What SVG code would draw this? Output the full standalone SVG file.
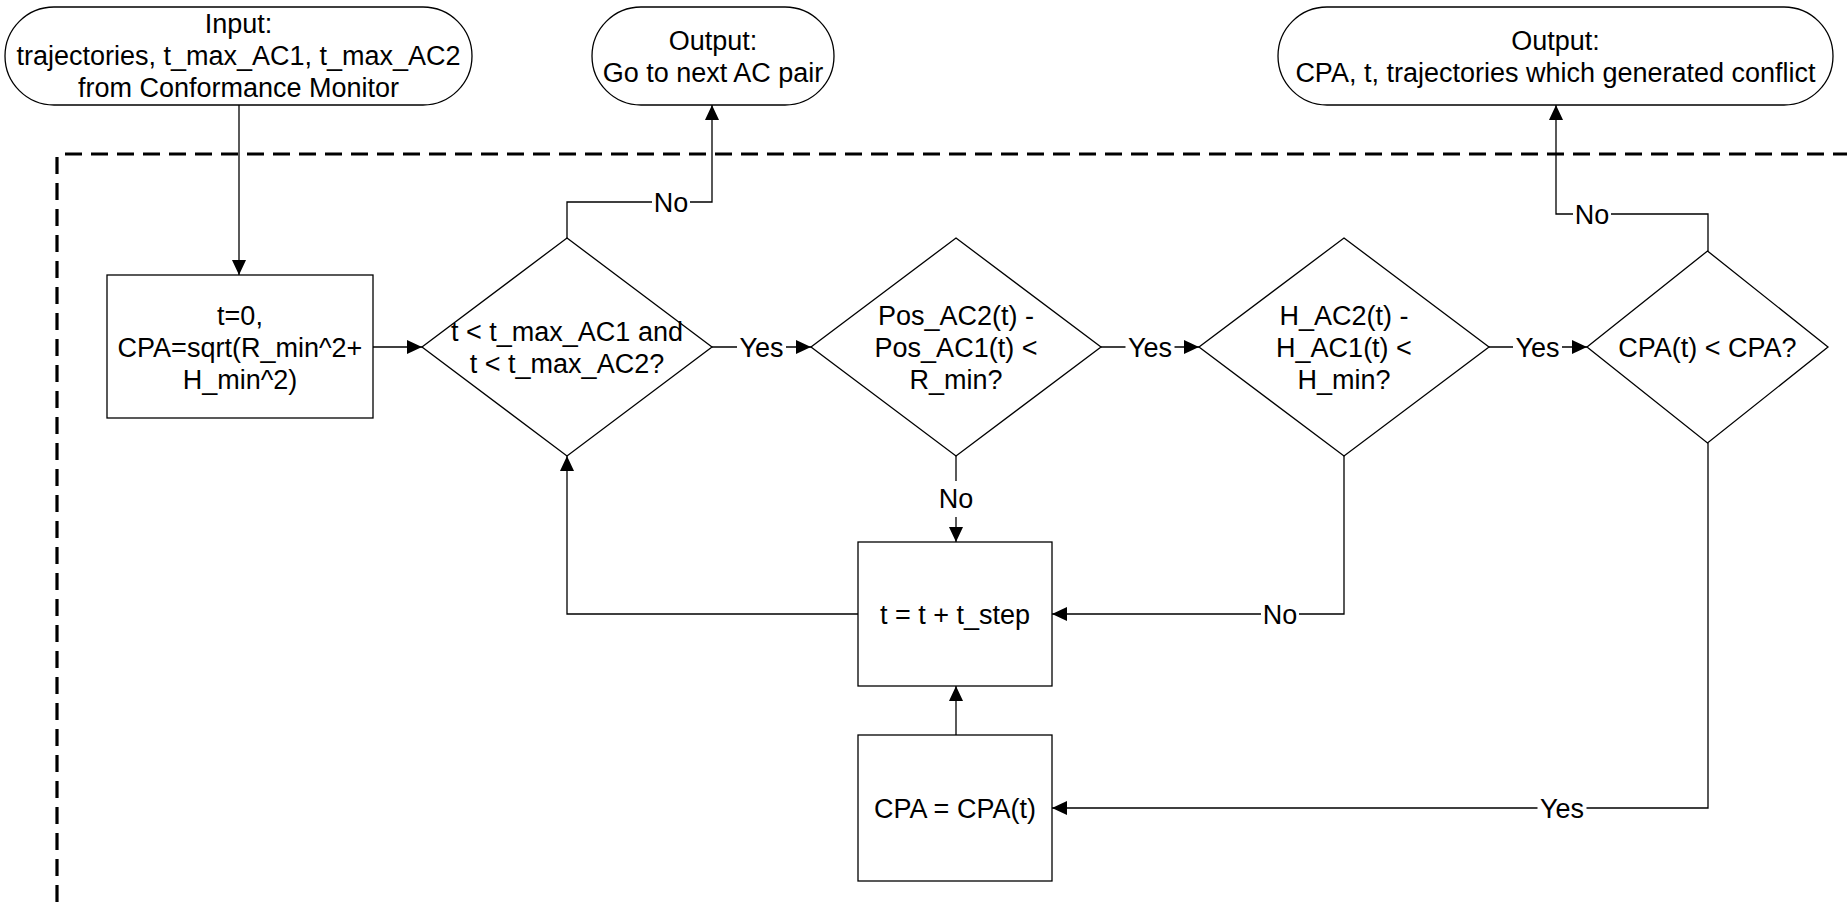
<svg xmlns="http://www.w3.org/2000/svg" width="1847" height="904" viewBox="0 0 1847 904">
<style>
  .shape { fill: #ffffff; stroke: #000000; stroke-width: 1.3; }
  .txt { font-family: "Liberation Sans", Arial, sans-serif; font-size: 27px; fill: #000000; text-anchor: middle; }
  .conn { fill: none; stroke: #000000; stroke-width: 1.3; }
  .arrow { marker-end: url(#ah); }
  .lblbg { fill: #ffffff; stroke: none; }
  .frame { fill: none; stroke: #000000; stroke-width: 3.2; stroke-dasharray: 17 9; }
</style>
<defs>
  <marker id="ah" markerUnits="userSpaceOnUse" markerWidth="16" markerHeight="14" refX="15" refY="7" orient="auto">
    <path d="M0,0 L15,7 L0,14 z" fill="#000000"/>
  </marker>
</defs>
<rect width="1847" height="904" fill="#ffffff"/>

<g id="boundary">
  <line class="frame" x1="65" y1="154" x2="1847" y2="154"/>
  <line class="frame" x1="57" y1="157" x2="57" y2="904"/>
</g>

<g id="connectors">
  <path class="conn arrow" d="M239,105 V275"/>
  <path class="conn arrow" d="M373,347 H422"/>
  <path class="conn arrow" d="M712,347 H811"/>
  <path class="conn arrow" d="M1101,347 H1199"/>
  <path class="conn arrow" d="M1489,347 H1587"/>
  <path class="conn arrow" d="M567,238 V202 H712 V105"/>
  <path class="conn arrow" d="M1708,251 V214 H1556 V105"/>
  <path class="conn arrow" d="M956,456 V542"/>
  <path class="conn arrow" d="M1344,456 V614 H1052"/>
  <path class="conn arrow" d="M858,614 H567 V456"/>
  <path class="conn arrow" d="M956,735 V686"/>
  <path class="conn arrow" d="M1708,443 V808 H1052"/>
  <g id="labels">
    <rect class="lblbg" x="652" y="190" width="38" height="24"/>
    <text class="txt" x="671" y="211.5">No</text>
    <rect class="lblbg" x="737" y="335" width="49" height="24"/>
    <text class="txt" x="761.5" y="356.5">Yes</text>
    <rect class="lblbg" x="1125.5" y="335" width="49" height="24"/>
    <text class="txt" x="1150" y="356.5">Yes</text>
    <rect class="lblbg" x="1513" y="335" width="49" height="24"/>
    <text class="txt" x="1537.5" y="356.5">Yes</text>
    <rect class="lblbg" x="1573" y="202" width="38" height="24"/>
    <text class="txt" x="1592" y="223.5">No</text>
    <rect class="lblbg" x="942" y="481" width="28" height="36"/>
    <text class="txt" x="956" y="507.5">No</text>
    <rect class="lblbg" x="1261" y="602" width="38" height="24"/>
    <text class="txt" x="1280" y="623.5">No</text>
    <rect class="lblbg" x="1537.5" y="796" width="49" height="24"/>
    <text class="txt" x="1562" y="817.5">Yes</text>
  </g>
</g>

<g id="input">
  <rect class="shape" x="5" y="7" width="467" height="98" rx="49" ry="49"/>
  <text class="txt" x="238.5" y="33">Input:</text>
  <text class="txt" x="238.5" y="65">trajectories, t_max_AC1, t_max_AC2</text>
  <text class="txt" x="238.5" y="97">from Conformance Monitor</text>
</g>

<g id="output-next">
  <rect class="shape" x="592" y="7" width="242" height="98" rx="49" ry="49"/>
  <text class="txt" x="713" y="49.5">Output:</text>
  <text class="txt" x="713" y="81.5">Go to next AC pair</text>
</g>

<g id="output-conflict">
  <rect class="shape" x="1278" y="7" width="555" height="98" rx="49" ry="49"/>
  <text class="txt" x="1555.5" y="49.5">Output:</text>
  <text class="txt" x="1555.5" y="81.5">CPA, t, trajectories which generated conflict</text>
</g>

<g id="init">
  <rect class="shape" x="107" y="275" width="266" height="143"/>
  <text class="txt" x="240" y="324.5">t=0,</text>
  <text class="txt" x="240" y="356.5">CPA=sqrt(R_min^2+</text>
  <text class="txt" x="240" y="388.5">H_min^2)</text>
</g>

<g id="check-time">
  <polygon class="shape" points="567,238 712,347 567,456 422,347"/>
  <text class="txt" x="567" y="340.5">t &lt; t_max_AC1 and</text>
  <text class="txt" x="567" y="372.5">t &lt; t_max_AC2?</text>
</g>

<g id="check-range">
  <polygon class="shape" points="956,238 1101,347 956,456 811,347"/>
  <text class="txt" x="956" y="324.5">Pos_AC2(t) -</text>
  <text class="txt" x="956" y="356.5">Pos_AC1(t) &lt;</text>
  <text class="txt" x="956" y="388.5">R_min?</text>
</g>

<g id="check-height">
  <polygon class="shape" points="1344,238 1489,347 1344,456 1199,347"/>
  <text class="txt" x="1344" y="324.5">H_AC2(t) -</text>
  <text class="txt" x="1344" y="356.5">H_AC1(t) &lt;</text>
  <text class="txt" x="1344" y="388.5">H_min?</text>
</g>

<g id="check-cpa">
  <polygon class="shape" points="1707.5,251 1828,347 1707.5,443 1587,347"/>
  <text class="txt" x="1707.5" y="356.5">CPA(t) &lt; CPA?</text>
</g>

<g id="step">
  <rect class="shape" x="858" y="542" width="194" height="144"/>
  <text class="txt" x="955" y="623.5">t = t + t_step</text>
</g>

<g id="update-cpa">
  <rect class="shape" x="858" y="735" width="194" height="146"/>
  <text class="txt" x="955" y="817.5">CPA = CPA(t)</text>
</g>
</svg>
